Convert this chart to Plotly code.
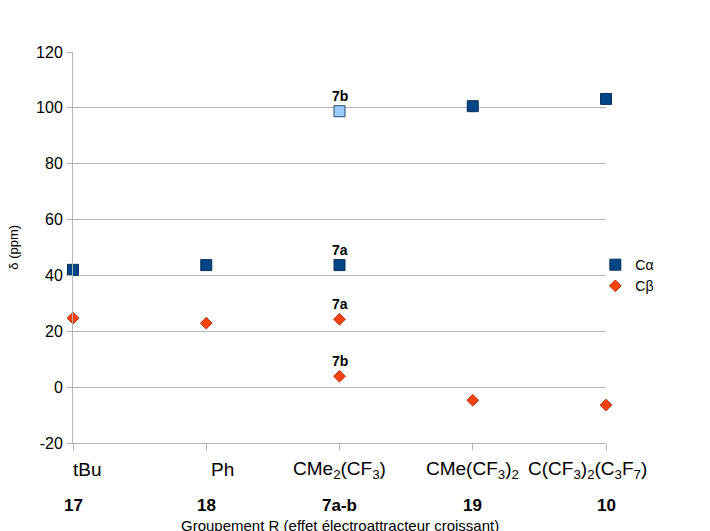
import plotly.graph_objects as go

categories = ["tBu", "Ph", "CMe<sub>2</sub>(CF<sub>3</sub>)", "CMe(CF<sub>3</sub>)<sub>2</sub>", "C(CF<sub>3</sub>)<sub>2</sub>(C<sub>3</sub>F<sub>7</sub>)"]
compounds = ["17", "18", "7a-b", "19", "10"]
cat_x = [0, 1, 2, 3, 4]

y_ticks = [-20, 0, 20, 40, 60, 80, 100, 120]
y_ticktext = ["-20", "0", "20", "40", "60", "80", "100", "120"]

ca_x = [0, 1, 2, 3, 4]
ca_y = [42, 43.7, 43.7, 100.6, 103.2]
cb_x = [0, 1, 2, 2, 3, 4]
cb_y = [24.7, 22.9, 24.3, 3.9, -4.7, -6.4]
ca7b_x = [2]
ca7b_y = [98.8]

point_labels = [("7b", 2, 98.8), ("7a", 2, 43.7), ("7a", 2, 24.3), ("7b", 2, 3.9)]

font = "Liberation Sans, Arial, sans-serif"

fig = go.Figure()
fig.add_trace(go.Scatter(x=ca_x, y=ca_y, mode="markers", name="Cα",
                         marker=dict(symbol="square", size=11, color="#004586",
                                     line=dict(color="#0a2f5c", width=1)),
                         cliponaxis=False))
fig.add_trace(go.Scatter(x=cb_x, y=cb_y, mode="markers", name="Cβ",
                         marker=dict(symbol="diamond", size=9, color="#ff420e",
                                     line=dict(color="#b03010", width=1)),
                         cliponaxis=False))
fig.add_trace(go.Scatter(x=ca7b_x, y=ca7b_y, mode="markers", showlegend=False,
                         marker=dict(symbol="square", size=11, color="#99ccff",
                                     line=dict(color="#2a4a70", width=1)),
                         cliponaxis=False))

annotations = []
for txt, x, y in point_labels:
    annotations.append(dict(x=x, y=y, xref="x", yref="y", text="<b>" + txt + "</b>",
                            showarrow=False, yshift=15, font=dict(size=14, color="black", family=font)))

label_x = [0.11, 1.12, 2.0, 3.0, 3.86]
for lx, c in zip(label_x, categories):
    annotations.append(dict(x=lx, y=-0.068, xref="x", yref="paper", text=c, showarrow=False,
                            font=dict(size=19, color="black", family=font), yanchor="middle"))
for x, c in zip(cat_x, compounds):
    annotations.append(dict(x=x, y=-0.16, xref="x", yref="paper", text="<b>" + c + "</b>", showarrow=False,
                            font=dict(size=17, color="black", family=font), yanchor="middle"))
annotations.append(dict(x=2, y=-0.212, xref="x", yref="paper",
                        text="Groupement R (effet électroattracteur croissant)", showarrow=False,
                        font=dict(size=15, color="black", family=font), yanchor="middle"))
annotations.append(dict(x=-0.13, y=0.5, xref="paper", yref="paper", text="δ (ppm)", textangle=-90,
                        showarrow=False, font=dict(size=13, color="black", family=font)))

fig.update_layout(
    width=710, height=531,
    margin=dict(l=73, r=104, t=52, b=88),
    paper_bgcolor="white", plot_bgcolor="white",
    showlegend=True,
    legend=dict(x=0.98, y=0.496, xanchor="left", yanchor="top", font=dict(size=14, family=font, color="black"),
                bgcolor="rgba(0,0,0,0)", tracegroupgap=0, itemwidth=30),
    annotations=annotations,
    font=dict(family=font),
)
fig.update_xaxes(range=[0, 4], tickvals=cat_x, showticklabels=False, ticks="outside", ticklen=6,
                 tickcolor="#b3b3b3", showline=True, linecolor="#b3b3b3", showgrid=False, zeroline=False)
fig.update_yaxes(range=[-20, 120], tickvals=y_ticks, ticktext=y_ticktext, ticks="outside", ticklen=6,
                 tickcolor="#b3b3b3", showline=True, linecolor="#b3b3b3", showgrid=True, gridcolor="#b3b3b3",
                 zeroline=False, tickfont=dict(size=16, color="black", family=font))

fig.write_html("out.html")
